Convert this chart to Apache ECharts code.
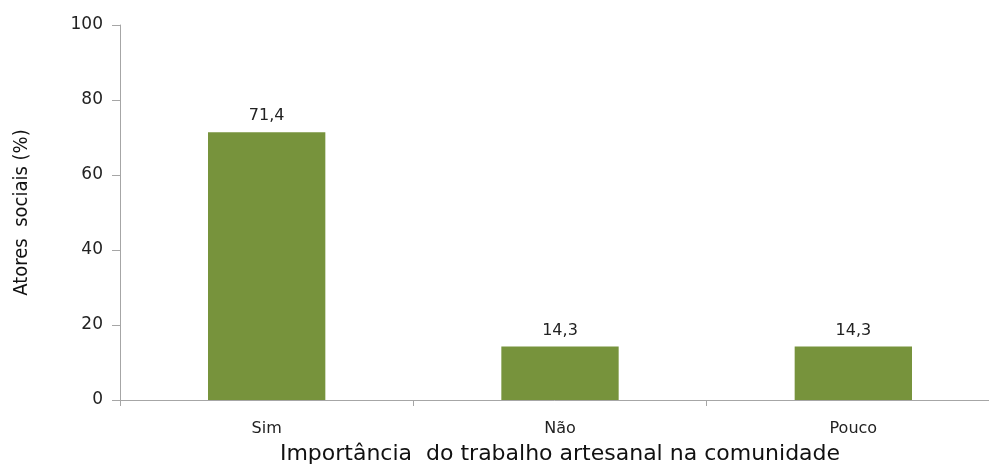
<!DOCTYPE html>
<html>
<head>
<meta charset="utf-8">
<script src="https://cdn.jsdelivr.net/npm/echarts@6/dist/echarts.min.js"></script>
<style>
  html, body { margin: 0; padding: 0; background: #fff; }
  #chart { width: 989px; height: 465px; }
</style>
</head>
<body>
<div id="chart"></div>
<script>
// categorias e valores (%)
var categories = ["Sim", "Não", "Pouco"];
var values = [71.4, 14.3, 14.3];
var valueLabels = ["71,4", "14,3", "14,3"];

var chart = echarts.init(document.getElementById("chart"));
chart.setOption({
  animation: false,
  grid: { left: 120, right: -11, top: 25, bottom: 65, outerBoundsMode: "none", containLabel: false },
  xAxis: {
    type: "category",
    data: categories,
    name: "Importância  do trabalho artesanal na comunidade",
    nameLocation: "middle",
    nameGap: 43,
    nameMoveOverlap: false,
    nameTextStyle: { fontFamily: "DejaVu Sans", fontSize: 22, color: "#111" },
    axisLine: { lineStyle: { color: "#a6a6a6", width: 1 } },
    axisTick: { show: true, length: 6, lineStyle: { color: "#a6a6a6" } },
    axisLabel: { margin: 21, fontFamily: "DejaVu Sans", fontSize: 16, color: "#222" }
  },
  yAxis: {
    type: "value",
    min: 0,
    max: 100,
    interval: 20,
    name: "Atores  sociais (%)",
    nameLocation: "middle",
    nameGap: 88,
    nameMoveOverlap: false,
    nameTextStyle: { fontFamily: "DejaVu Sans Condensed", fontSize: 20, color: "#111" },
    splitLine: { show: false },
    axisLine: { show: true, lineStyle: { color: "#a6a6a6", width: 1 } },
    axisTick: { show: true, length: 8, lineStyle: { color: "#a6a6a6" } },
    axisLabel: { margin: 17, fontFamily: "DejaVu Sans", fontSize: 17, color: "#222" }
  },
  series: [{
    type: "bar",
    data: values,
    barWidth: "40%",
    itemStyle: { color: "#77933C" },
    label: {
      show: true,
      position: "top",
      distance: 8,
      fontFamily: "DejaVu Sans",
      fontSize: 16,
      color: "#222",
      formatter: function (p) { return valueLabels[p.dataIndex]; }
    }
  }]
});
</script>
</body>
</html>
